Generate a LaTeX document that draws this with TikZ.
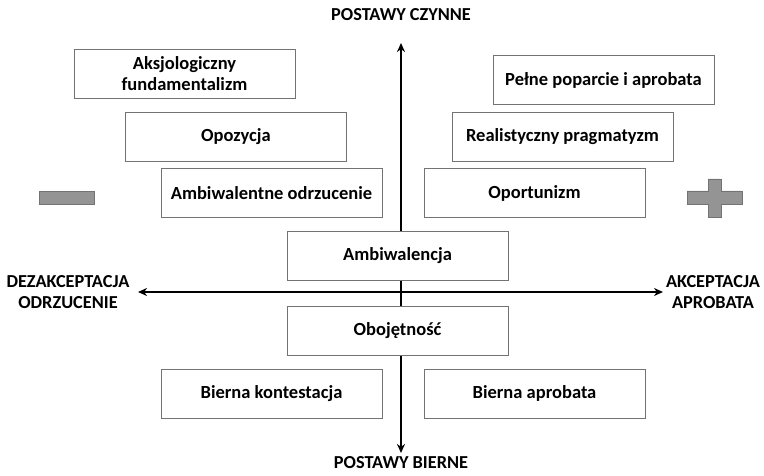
\documentclass[tikz,border=0pt]{standalone}
\usepackage{fontspec}
\setmainfont{Carlito}
\usetikzlibrary{arrows.meta}
\begin{document}
\begin{tikzpicture}[x=1pt,y=-1pt,
  box/.style={draw=black!55, line width=0.9pt, fill=white, minimum width=221pt, minimum height=49pt, inner sep=2pt, align=center, font=\fontsize{18.5}{21}\selectfont\bfseries},
  axlabel/.style={align=center, font=\fontsize{18.3}{21}\selectfont\bfseries},
  axis/.style={line width=2.2pt, -{Stealth[length=9pt,width=8pt]}},
  sign/.style={fill=black!42, draw=black!55, line width=0.8pt}]
\useasboundingbox (0,0) rectangle (764,476);
% axes
\coordinate (c) at (401,292);
\coordinate (top) at (401,43);
\coordinate (bot) at (401,453);
\coordinate (lft) at (138,292);
\coordinate (rgt) at (663,292);
\draw[axis] (c) -- (top);
\draw[axis] (c) -- (bot);
\draw[axis] (c) -- (lft);
\draw[axis] (c) -- (rgt);
% boxes
\node[box] (ak) at (184.5,74) {Aksjologiczny\\fundamentalizm};
\node[box] (op) at (236,137) {Opozycja};
\node[box] (ao) at (271.5,193) {Ambiwalentne odrzucenie};
\node[box] (pp) at (603.5,80) {Pełne poparcie i aprobata};
\node[box] (rp) at (562.5,137) {Realistyczny pragmatyzm};
\node[box] (opt) at (534.5,193) {Oportunizm};
\node[box] (amb) at (397.5,255.5) {Ambiwalencja};
\node[box] (obo) at (397.5,330.5) {Obojętność};
\node[box] (bk) at (271.5,393.5) {Bierna kontestacja};
\node[box] (ba) at (534.5,393.5) {Bierna aprobata};
% axis labels
\node[axlabel] (pc) at (401,15) {POSTAWY CZYNNE};
\node[axlabel] (pb) at (401,463) {POSTAWY BIERNE};
\node[axlabel] (dz) at (68,292) {DEZAKCEPTACJA\\ODRZUCENIE};
\node[axlabel] (akc) at (713,292) {AKCEPTACJA\\APROBATA};
% signs
\draw[sign] (39,191) rectangle (94,204);
\draw[sign] (687,191) -- (708,191) -- (708,179) -- (721,179) -- (721,191) -- (742,191) -- (742,204) -- (721,204) -- (721,217) -- (708,217) -- (708,204) -- (687,204) -- cycle;
\end{tikzpicture}
\end{document}
